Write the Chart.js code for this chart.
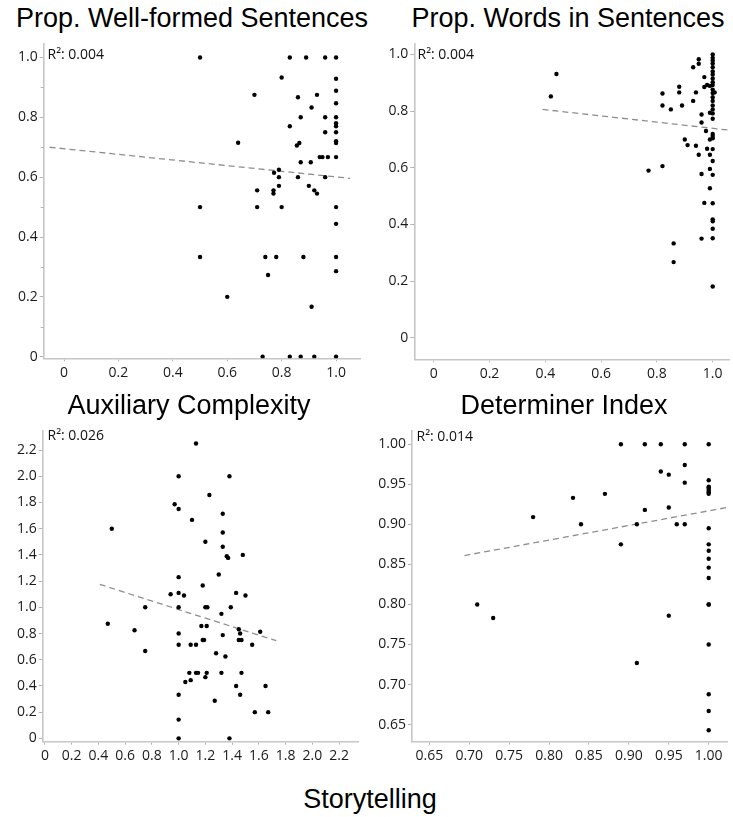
<!DOCTYPE html>
<html>
<head>
<meta charset="utf-8">
<script src="https://cdn.jsdelivr.net/npm/chart.js@4.4.1/dist/chart.umd.min.js"></script>
<style>
  html, body { margin: 0; padding: 0; background: #fff; }
  #wrap { position: relative; width: 733px; height: 817px; overflow: hidden; background: #fff; }
  #wrap canvas { position: absolute; }
  .title { position: absolute; width: 440px; text-align: center; white-space: nowrap;
           font-family: "Liberation Sans", Arial, sans-serif; font-size: 27px; line-height: 27px; color: #000; }
  .r2 { position: absolute; white-space: nowrap; font-family: "Open Sans", sans-serif;
        font-size: 14px; line-height: 14px; color: #111; }
</style>
</head>
<body>
<div id="wrap"></div>
<script>
// ---- Storytelling score (x) vs. four language measures (y) ----

const panelTitles = ["Prop. Well-formed Sentences", "Prop. Words in Sentences", "Auxiliary Complexity", "Determiner Index"];
const r2Labels = ["R\u00b2: 0.004", "R\u00b2: 0.004", "R\u00b2: 0.026", "R\u00b2: 0.014"];
const xAxisTitle = "Storytelling";

// Proportion of well-formed sentences
const storyWellFormed = [0.50,0.83,0.89,0.96,1.00,0.80,1.00,0.70,0.93,0.86,1.00,1.00,0.91,0.87,0.96,1.00,1.00,1.00,0.83,0.96,
  1.00,0.64,1.00,1.00,0.856,0.865,0.94,0.95,0.97,1.00,0.907,0.87,0.79,0.772,0.79,0.86,0.96,0.79,0.90,0.71,
  0.77,0.77,0.92,0.93,0.50,0.71,0.80,1.00,1.00,0.50,0.74,0.78,0.88,1.00,0.75,1.00,0.60,0.91,0.73,0.83,
  0.87,0.92,1.00];
const wellFormed = [1.0,1.0,1.0,1.0,1.0,0.933,0.929,0.875,0.875,0.867,0.889,0.847,0.833,0.80,0.80,0.80,0.78,0.77,0.77,0.75,
  0.75,0.715,0.72,0.714,0.706,0.714,0.667,0.667,0.667,0.667,0.65,0.65,0.625,0.615,0.60,0.60,0.60,0.571,0.571,0.556,
  0.556,0.545,0.556,0.545,0.50,0.50,0.50,0.50,0.444,0.333,0.333,0.333,0.333,0.333,0.273,0.286,0.20,0.167,0,0,
  0,0,0];

// Proportion of words in sentences
const storyWordsIn = [0.44,0.42,0.82,0.82,0.85,0.88,0.88,0.89,0.93,0.94,0.93,0.95,0.95,0.97,0.97,0.98,0.99,
  1.0,1.0,1.0,1.0,1.0,1.0,1.0,1.0,1.0,1.0,1.0,1.0,1.0,1.0,1.0,1.0,1.0,1.0,1.0,1.0,1.0,1.0,1.0,1.0,1.0,1.0,1.0,1.0,1.0,1.0,
  1.007,0.96,0.96,0.99,0.976,0.99,0.90,0.91,0.94,0.95,0.98,0.99,0.99,0.96,0.99,0.97,0.96,0.77,0.82,0.86,0.86];
const wordsIn = [0.931,0.852,0.862,0.82,0.806,0.866,0.886,0.82,0.836,0.866,0.955,0.983,0.967,0.92,0.885,0.892,0.889,
  1.0,0.988,0.979,0.968,0.955,0.94,0.929,0.915,0.902,0.892,0.876,0.864,0.849,0.836,0.82,0.806,0.792,0.773,0.719,0.712,0.704,0.666,0.624,0.575,0.475,0.418,0.411,0.385,0.351,0.181,
  0.866,0.788,0.76,0.794,0.73,0.70,0.70,0.68,0.678,0.646,0.667,0.646,0.596,0.578,0.528,0.476,0.35,0.59,0.606,0.333,0.267];

// Auxiliary complexity
const storyAux = [1.13,1.0,1.38,1.23,0.97,1.0,1.33,1.10,0.50,1.33,1.20,1.33,1.48,1.36,1.37,1.30,1.0,1.18,0.94,1.0,
  1.04,1.43,1.50,0.75,1.0,1.20,1.215,1.39,1.32,0.47,1.17,1.21,1.45,0.67,1.0,1.46,1.33,1.61,1.18,1.19,
  1.45,1.47,1.0,1.09,1.13,1.55,0.75,1.28,1.35,1.08,1.13,1.145,1.21,1.32,1.47,1.20,1.09,1.05,1.43,1.65,
  1.0,1.46,1.27,1.0,1.57,1.67,1.0,1.38];
const auxComplexity = [2.25,2.0,2.0,1.857,1.786,1.75,1.714,1.667,1.60,1.571,1.50,1.462,1.40,1.39,1.377,1.25,1.23,1.167,1.10,1.11,
  1.09,1.11,1.09,1.0,1.0,1.0,1.0,1.0,0.95,0.875,0.857,0.857,0.833,0.825,0.80,0.80,0.788,0.813,0.75,0.75,
  0.75,0.75,0.714,0.714,0.714,0.714,0.667,0.65,0.625,0.50,0.50,0.50,0.50,0.50,0.50,0.467,0.444,0.43,0.40,0.40,
  0.333,0.333,0.287,0.143,0.20,0.20,0,0];

// Determiner index
const storyDet = [0.89,0.92,0.94,0.97,1.0,0.97,0.94,0.95,0.97,1.0,1.0,1.0,1.0,1.0,1.0,1.0,0.83,0.87,0.78,0.92,
  0.95,0.84,0.91,0.96,0.97,0.89,1.0,1.0,1.0,1.0,1.0,1.0,1.0,1.0,1.0,1.0,1.0,1.0,0.71,0.73,
  0.95,0.91];
const determiner = [1.0,1.0,1.0,1.0,1.0,0.974,0.966,0.962,0.952,0.955,0.947,0.946,0.944,0.942,0.940,0.938,0.933,0.938,0.909,0.918,
  0.921,0.90,0.90,0.90,0.90,0.875,0.895,0.875,0.867,0.857,0.846,0.833,0.80,0.75,0.688,0.667,0.643,0.80,0.80,0.783,
  0.786,0.727];

// Least-squares fit lines (endpoints)
const fitWellFormed = [[-0.053, 0.700], [1.052, 0.596]];
const fitWordsIn = [[0.39, 0.806], [1.057, 0.733]];
const fitAux = [[0.41, 1.175], [1.73, 0.745]];
const fitDet = [[0.694, 0.861], [1.023, 0.921]];

// Tick values
const ticksUnit = [0, 0.2, 0.4, 0.6, 0.8, 1.0];
const ticksUnitMinor = [0.1, 0.3, 0.5, 0.7, 0.9];
const ticksAux = [0, 0.2, 0.4, 0.6, 0.8, 1.0, 1.2, 1.4, 1.6, 1.8, 2.0, 2.2];
const ticksDet = [0.65, 0.70, 0.75, 0.80, 0.85, 0.90, 0.95, 1.00];

// ---- layout ----
const wrap = document.getElementById('wrap');
const AXIS_COLOR = '#c6c6c6';
const TICK_COLOR = '#b4b4b4';
const LABEL_FONT = { family: '"Open Sans", sans-serif', size: 14 };

const panels = [
  { title: panelTitles[0], titleX: 192, titleTop: 5, r2: r2Labels[0], r2X: 47.5, r2Top: 47,
    xs: storyWellFormed, ys: wellFormed, fit: fitWellFormed,
    box: { x: 0, y: 33, w: 366, h: 362 }, area: { l: 43.7, t: 43.3, r: 360, b: 358.3 },
    xMin: -0.0747, xMax: 1.088, yMin: -0.0053, yMax: 1.047,
    xTicks: ticksUnit, yTicks: ticksUnit, yMinor: ticksUnitMinor, xDec: 1, yDec: 1 },
  { title: panelTitles[1], titleX: 568, titleTop: 5, r2: r2Labels[1], r2X: 417.5, r2Top: 46.5,
    xs: storyWordsIn, ys: wordsIn, fit: fitWordsIn,
    box: { x: 366, y: 33, w: 367, h: 362 }, area: { l: 414.3, t: 43.3, r: 729.3, b: 359.3 },
    xMin: -0.0695, xMax: 1.0595, yMin: -0.076, yMax: 1.039,
    xTicks: ticksUnit, yTicks: ticksUnit, yMinor: null, xDec: 1, yDec: 1 },
  { title: panelTitles[2], titleX: 189, titleTop: 392, r2: r2Labels[2], r2X: 47.5, r2Top: 428,
    xs: storyAux, ys: auxComplexity, fit: fitAux,
    box: { x: 0, y: 420, w: 366, h: 362 }, area: { l: 42.7, t: 425, r: 358.3, b: 741.7 },
    xMin: -0.017, xMax: 2.344, yMin: -0.0255, yMax: 2.35,
    xTicks: ticksAux, yTicks: ticksAux, yMinor: null, xDec: 1, yDec: 1 },
  { title: panelTitles[3], titleX: 564, titleTop: 392, r2: r2Labels[3], r2X: 416.5, r2Top: 429,
    xs: storyDet, ys: determiner, fit: fitDet,
    box: { x: 366, y: 420, w: 367, h: 362 }, area: { l: 412, t: 425, r: 727.7, b: 741.7 },
    xMin: 0.6283, xMax: 1.0238, yMin: 0.6287, yMax: 1.0172,
    xTicks: ticksDet, yTicks: ticksDet, yMinor: null, xDec: 2, yDec: 2 }
];

function fmt(dec) {
  return v => (v === 0 ? '0' : Number(v).toFixed(dec));
}

// short unlabeled ticks between the labeled ones on the y axis
const minorTicks = {
  id: 'minorTicks',
  afterDraw(chart, args, opts) {
    if (!opts.values) return;
    const y = chart.scales.y, ctx = chart.ctx;
    ctx.save();
    ctx.strokeStyle = TICK_COLOR;
    ctx.lineWidth = 1;
    ctx.beginPath();
    opts.values.forEach(v => {
      const py = Math.round(y.getPixelForValue(v)) + 0.5;
      ctx.moveTo(y.right - 3, py);
      ctx.lineTo(y.right, py);
    });
    ctx.stroke();
    ctx.restore();
  }
};

function addText(cls, text, left, top, extra) {
  const d = document.createElement('div');
  d.className = cls;
  d.textContent = text;
  d.style.left = left + 'px';
  d.style.top = top + 'px';
  if (extra) Object.assign(d.style, extra);
  wrap.appendChild(d);
}

panels.forEach(p => {
  const cv = document.createElement('canvas');
  cv.width = p.box.w; cv.height = p.box.h;
  Object.assign(cv.style, { left: p.box.x + 'px', top: p.box.y + 'px', width: p.box.w + 'px', height: p.box.h + 'px' });
  wrap.appendChild(cv);

  const gridOpts = { display: true, drawOnChartArea: false, drawTicks: true, color: TICK_COLOR, lineWidth: 1 };
  const borderOpts = { display: true, color: AXIS_COLOR, width: 1.6 };

  new Chart(cv, {
    type: 'scatter',
    data: {
      datasets: [
        { data: p.xs.map((x, i) => ({ x: x, y: p.ys[i] })),
          pointRadius: 2.2, pointHoverRadius: 2.2, pointBackgroundColor: '#000', pointBorderWidth: 0, order: 1 },
        { data: p.fit.map(([x, y]) => ({ x: x, y: y })), showLine: true,
          borderColor: '#8e8e8e', borderWidth: 1.3, borderDash: [6, 4], pointRadius: 0, fill: false, order: 2 }
      ]
    },
    options: {
      responsive: false, animation: false, devicePixelRatio: 1, events: [],
      layout: { padding: { top: p.area.t - p.box.y, right: p.box.x + p.box.w - p.area.r, left: 0, bottom: 0 } },
      plugins: { legend: { display: false }, tooltip: { enabled: false }, minorTicks: { values: p.yMinor } },
      scales: {
        x: {
          type: 'linear', position: 'bottom', min: p.xMin, max: p.xMax,
          afterBuildTicks: s => { s.ticks = p.xTicks.map(v => ({ value: v })); },
          afterFit: s => { s.height = p.box.y + p.box.h - p.area.b; },
          grid: Object.assign({ tickLength: 3 }, gridOpts),
          border: borderOpts,
          ticks: { autoSkip: false, maxRotation: 0, padding: 3, color: '#1a1a1a', font: LABEL_FONT, callback: fmt(p.xDec) }
        },
        y: {
          type: 'linear', position: 'left', min: p.yMin, max: p.yMax,
          afterBuildTicks: s => { s.ticks = p.yTicks.map(v => ({ value: v })); },
          afterFit: s => { s.width = p.area.l - p.box.x; },
          grid: Object.assign({ tickLength: 4 }, gridOpts),
          border: borderOpts,
          ticks: { autoSkip: false, padding: 2, color: '#1a1a1a', font: LABEL_FONT, callback: fmt(p.yDec) }
        }
      }
    },
    plugins: [minorTicks]
  });

  addText('title', p.title, p.titleX - 220, p.titleTop);
  addText('r2', p.r2, p.r2X, p.r2Top);
});

addText('title', xAxisTitle, 370 - 220, 785.5);
</script>
</body>
</html>
